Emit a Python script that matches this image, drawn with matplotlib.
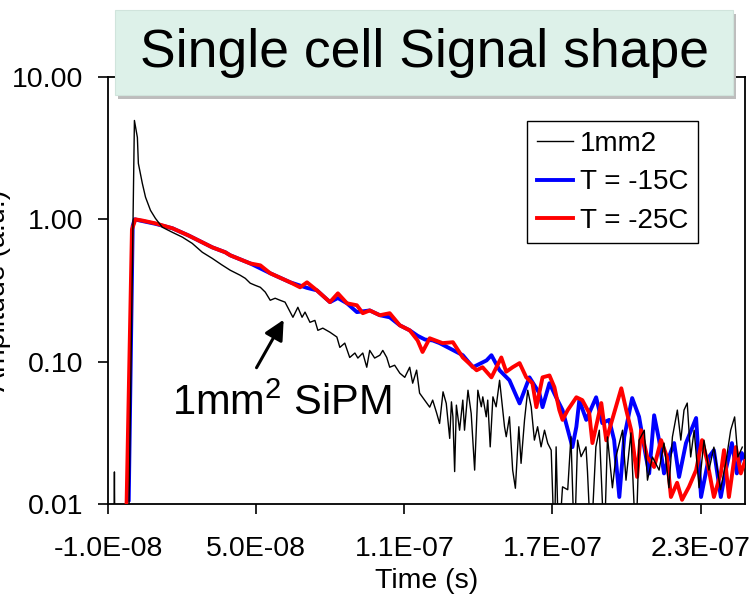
import numpy as np
import matplotlib
matplotlib.use("Agg")
import matplotlib.pyplot as plt
from matplotlib.patches import Rectangle

plt.rcParams['font.family'] = ['Liberation Sans', 'DejaVu Sans']
plt.rcParams['mathtext.fontset'] = 'custom'
plt.rcParams['mathtext.rm'] = 'Liberation Sans'

# 1mm2 trace (time in ns, amplitude a.u.); 0.005 = below axis
t_1mm = [-7.6, -7.4, -7.2, -1.7, 0.7, 1.9, 2.3, 3.9, 5.2, 7.2, 9.2, 12.0, 16.1, 20.1,
         24.1, 28.2, 32.2, 36.0,
         39.5, 43.5, 45.6, 47.6, 49.6, 51.7, 53.7, 55.7, 57.7, 59.7, 61.7, 63.8, 64.9,
         66.9, 68.6, 69.8, 71.8, 73.8, 75.0, 77.0, 79.9, 82.7, 83.9, 85.9, 87.9, 90.0,
         91.2, 93.2, 94.8, 96.0, 98.0, 100.1, 101.3, 102.9, 104.1, 106.1, 108.2, 110.2,
         112.2, 113.4, 115.0, 116.2, 117.4, 119.1, 120.3, 121.5, 123.1,
         124.3, 125.7, 127.0, 128.4, 129.1, 129.7, 130.4, 131.1, 132.4, 133.7, 134.4,
         135.8, 137.1, 138.5, 139.8, 141.2, 141.8, 143.2, 143.8, 144.8, 145.9, 147.2,
         148.6, 149.3, 150.6, 151.3, 152.6, 153.9, 155.0, 156.4, 157.3, 158.7, 160.0,
         161.4, 162.7, 164.0, 165.4, 166.8, 168.1, 169.5, 170.8, 171.5, 172.5, 174.1,
         176.2, 177.5, 178.9, 180.2, 181.6, 183.6, 184.2, 185.6, 187.6,
         189.0, 191.0, 192.3, 194.3, 195.7, 198.4, 199.8, 201.8, 203.8, 205.1, 207.2,
         208.5, 210.5, 213.2, 215.2, 217.2, 218.6, 220.6, 222.0, 223.3, 224.6, 226.0,
         227.4, 229.4, 231.4, 233.4, 235.4, 238.1, 240.2, 242.2, 243.8, 245.1, 246.9]
a_1mm = [0.005, 0.0168, 0.005, 0.005, 4.95, 3.76, 2.47, 1.79, 1.43, 1.157, 1.016, 0.88,
         0.81, 0.75, 0.678, 0.587, 0.532, 0.48,
         0.439, 0.405, 0.385, 0.356, 0.344, 0.333, 0.308, 0.270, 0.279, 0.270, 0.262,
         0.223, 0.205, 0.241, 0.205, 0.223, 0.189, 0.195, 0.166, 0.172, 0.161, 0.149,
         0.126, 0.135, 0.107, 0.115, 0.106, 0.115, 0.0914, 0.120, 0.106, 0.111, 0.120,
         0.107, 0.0914, 0.0944, 0.083, 0.0776, 0.0914, 0.0706, 0.0872, 0.0601, 0.0562,
         0.0512, 0.0479, 0.0537, 0.0436,
         0.0368, 0.0614, 0.0509, 0.0289, 0.0522, 0.041, 0.0169, 0.0495, 0.033, 0.0537,
         0.033, 0.063, 0.0433, 0.0173, 0.063, 0.0482, 0.0566, 0.041, 0.0537, 0.0252,
         0.0566, 0.0482, 0.074, 0.0566, 0.0349, 0.0297, 0.041, 0.0173, 0.0129, 0.0349,
         0.0193, 0.0389, 0.063, 0.0482, 0.0281, 0.0349, 0.0252, 0.033, 0.0267, 0.0239,
         0.005, 0.0252, 0.005, 0.0132, 0.0126, 0.0297, 0.005, 0.0281, 0.0215, 0.0252,
         0.0169, 0.005, 0.0252,
         0.033, 0.005, 0.0296, 0.013, 0.0214, 0.033, 0.0147, 0.0316, 0.005, 0.0281,
         0.033, 0.0147, 0.0214, 0.0173, 0.0268, 0.013, 0.0296, 0.0457, 0.0281, 0.0457,
         0.0512, 0.0214, 0.033, 0.013, 0.0281, 0.0173, 0.0251, 0.0126, 0.0194, 0.033,
         0.0409, 0.0214, 0.0251]

# T = -15C
t_m15 = [-1.6, 0.0, 0.8, 3.0, 9.2, 16.1, 22.5, 28.2, 32.2, 37.5, 39.5, 47.6, 55.7, 63.8,
         70.6, 74.6, 79.9, 83.1, 86.8, 90.8, 96.0, 100.1, 104.1, 108.2, 112.2, 115.4,
         118.4, 121.5, 124.3, 128.4, 133.7, 137.8, 143.3, 145.3, 148.6, 152.6, 156.7,
         160.7, 164.7, 166.0, 168.8, 171.5, 174.1, 178.1, 179.7, 180.9, 183.7, 187.7,
         190.2, 193.0, 195.0, 197.1, 199.1, 202.3, 205.1, 207.9, 209.2, 211.2, 213.2,
         215.2, 217.2, 219.3, 221.3, 224.1, 228.2, 230.2, 233.4, 235.4, 238.2, 240.2,
         242.7, 244.7, 246.7, 248.0]
a_m15 = [0.0107, 0.9, 1.0, 0.98, 0.93, 0.865, 0.772, 0.689, 0.636, 0.587, 0.559, 0.49,
         0.418, 0.361, 0.33, 0.317, 0.262, 0.28, 0.257, 0.223, 0.229, 0.212, 0.205, 0.180,
         0.166, 0.152, 0.143, 0.141, 0.135, 0.124, 0.111, 0.0914, 0.102, 0.111, 0.087,
         0.074, 0.0509, 0.0776, 0.0601, 0.0479, 0.0706, 0.0562, 0.0457, 0.0251, 0.0349,
         0.0537, 0.039, 0.0562, 0.037, 0.039, 0.0281, 0.0112, 0.0296, 0.0555, 0.041,
         0.0214, 0.0164, 0.042, 0.0281, 0.0164, 0.0214, 0.0268, 0.0155, 0.0268, 0.0402,
         0.0112, 0.0214, 0.0239, 0.0112, 0.0173, 0.0268, 0.0164, 0.0228, 0.02]

# T = -25C
t_m25 = [-2.5, -0.3, 1.1, 4.0, 9.2, 16.1, 22.5, 28.2, 32.2, 37.5, 39.5, 47.6, 51.7, 55.7,
         63.8, 67.8, 70.6, 74.6, 79.9, 83.1, 86.8, 90.8, 93.2, 96.0, 100.1, 104.1, 108.2,
         112.2, 115.4, 117.4, 120.3, 125.5, 129.7, 133.7, 139.3, 141.7, 145.3, 149.3,
         151.3, 153.9, 156.7, 159.4, 161.9, 163.5, 166.0, 168.8, 170.8, 172.8, 174.1,
         176.2, 179.7, 182.1, 184.9, 186.2, 189.8, 191.8, 195.0, 197.9, 199.9, 201.9,
         204.3, 205.9, 208.4, 211.2, 214.0, 216.4, 218.0, 220.5, 222.5, 225.3, 228.2,
         230.6, 232.6, 235.4, 238.2, 239.5, 241.5, 244.3, 246.3, 248.0]
a_m25 = [0.0095, 0.85, 1.0, 0.98, 0.937, 0.865, 0.772, 0.689, 0.636, 0.587, 0.559, 0.49,
         0.475, 0.418, 0.361, 0.333, 0.361, 0.317, 0.262, 0.302, 0.257, 0.249, 0.219,
         0.229, 0.212, 0.219, 0.180, 0.166, 0.141, 0.117, 0.146, 0.135, 0.137, 0.107,
         0.087, 0.0914, 0.0776, 0.107, 0.085, 0.0914, 0.0977, 0.0776, 0.0706, 0.0479,
         0.0776, 0.08, 0.0662, 0.0457, 0.039, 0.0457, 0.0562, 0.0537, 0.0436, 0.0268,
         0.0512, 0.028, 0.0436, 0.065, 0.0457, 0.033, 0.0155, 0.033, 0.0214, 0.0182,
         0.0281, 0.0214, 0.0112, 0.0141, 0.0107, 0.0132, 0.0173, 0.0281, 0.0204, 0.0112,
         0.0164, 0.0239, 0.0112, 0.0251, 0.0164, 0.02]

xticks = [-1.0e-8, 5.0e-8, 1.1e-7, 1.7e-7, 2.3e-7]
yticks = [0.01, 0.1, 1.0, 10.0]

fig = plt.figure(figsize=(7.49, 5.98), dpi=100)
ax = fig.add_axes([108 / 749, 1 - 504 / 598, 637 / 749, 427 / 598])

ns = 1e-9
l2, = ax.plot(np.array(t_m15) * ns, a_m15, color='#0000FF', lw=2.8, zorder=2)
l3, = ax.plot(np.array(t_m25) * ns, a_m25, color='#FF0000', lw=2.8, zorder=3)
l1, = ax.plot(np.array(t_1mm) * ns, a_1mm, color='black', lw=1.0, zorder=4)

ax.set_yscale('log')
ax.set_ylim(0.01, 10)
ax.set_xlim(-1.0e-8, 2.48e-7)
ax.set_yticks(yticks)
ax.set_yticklabels(['%.2f' % v for v in yticks])
ax.minorticks_off()
ax.set_xticks(xticks)
ax.set_xticklabels(['%.1E' % v for v in xticks])
ax.tick_params(direction='out', length=7, width=1.2, labelsize=20.5, color='black')
ax.tick_params(axis='x', pad=16)
ax.tick_params(axis='y', pad=11)
for s in ax.spines.values():
    s.set_linewidth(1.3)

ax.set_xlabel('Time (s)', fontsize=20.5, labelpad=4)
ax.set_ylabel('Amplitude (a.u.)', fontsize=20.5)
ax.yaxis.set_label_coords(-0.152, 0.5)

leg = ax.legend([l1, l2, l3], ['1mm2', 'T = -15C', 'T = -25C'], loc='upper left',
                bbox_to_anchor=(419 / 637, 1 - 44 / 427), fontsize=20, frameon=True,
                fancybox=False, edgecolor='black', framealpha=1, handlelength=1.3,
                handletextpad=0.25, borderpad=0.35, labelspacing=0.45, borderaxespad=0)
leg.get_frame().set_linewidth(1.0)

ax.annotate('', xy=(61.7 * ns, 0.205), xytext=(49.6 * ns, 0.0872),
            arrowprops=dict(arrowstyle='-|>', color='black', lw=2.2, mutation_scale=30))
ax.text(16.1 * ns, 0.042, r'1mm$^{\mathregular{2}}$ SiPM', fontsize=30, va='baseline')

# title box with shadow
W, H = 749.0, 598.0
shadow = Rectangle((118 / W, 1 - 99 / H), 618 / W, 85 / H, transform=fig.transFigure,
                   facecolor='#BDBDBD', edgecolor='none', zorder=5)
box = Rectangle((115 / W, 1 - 95 / H), 618 / W, 85 / H, transform=fig.transFigure,
                facecolor='#DDF1E9', edgecolor='#D0E4DC', lw=0.8, zorder=6)
fig.add_artist(shadow)
fig.add_artist(box)
fig.text(424 / W, 1 - 53 / H, 'Single cell Signal shape', fontsize=38.5, ha='center',
         va='center', zorder=7)

fig.savefig('out.png', dpi=100)
